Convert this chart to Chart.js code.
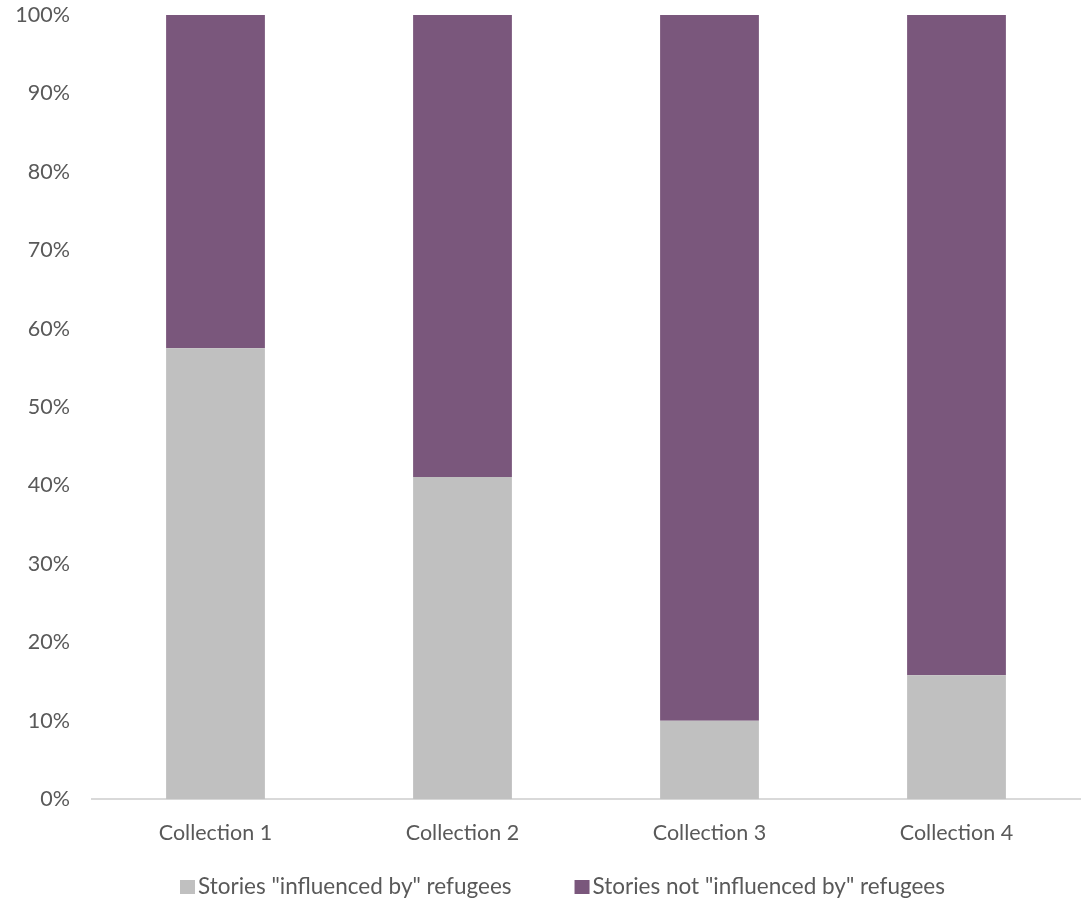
<!DOCTYPE html>
<html>
<head>
<meta charset="utf-8">
<script src="https://cdn.jsdelivr.net/npm/chart.js@4/dist/chart.umd.min.js"></script>
<style>
  html, body { margin: 0; padding: 0; background: #fff; }
  #wrap { width: 1082px; height: 900px; position: relative; }
</style>
</head>
<body>
<div id="wrap"><canvas id="chart" width="1082" height="900"></canvas></div>
<script>
// Categories and series (percent of stories per collection)
const categories = ['Collection 1', 'Collection 2', 'Collection 3', 'Collection 4'];
const influenced = [57.5, 41.1, 10.0, 15.8];
const notInfluenced = [42.5, 58.9, 90.0, 84.2];
const yTicks = [0, 10, 20, 30, 40, 50, 60, 70, 80, 90, 100];

const textColor = '#595959';
const fontFamily = 'Lato, "Open Sans", sans-serif';

// Legend drawn under the plot, Excel style (small square right next to text)
const bottomLegend = {
    id: 'bottomLegend',
    afterDraw(chart) {
        const c = chart.ctx;
        const y = 887;
        let x = 180;
        c.save();
        c.font = '22.5px ' + fontFamily;
        c.textBaseline = 'middle';
        chart.data.datasets.forEach(ds => {
            c.fillStyle = ds.backgroundColor;
            c.fillRect(x, y - 7, 15, 14);
            c.fillStyle = textColor;
            c.fillText(ds.label, x + 18, y);
            x += 18 + c.measureText(ds.label).width + 63;
        });
        c.restore();
    }
};

const ctx = document.getElementById('chart').getContext('2d');
new Chart(ctx, {
    type: 'bar',
    data: {
        labels: categories,
        datasets: [
            {
                label: 'Stories "influenced by" refugees',
                data: influenced,
                backgroundColor: '#C0C0C0',
                categoryPercentage: 1,
                barPercentage: 0.4
            },
            {
                label: 'Stories not "influenced by" refugees',
                data: notInfluenced,
                backgroundColor: '#7A577C',
                categoryPercentage: 1,
                barPercentage: 0.4
            }
        ]
    },
    options: {
        responsive: false,
        animation: false,
        layout: { padding: { top: 15, right: 2, left: 0, bottom: 33 } },
        plugins: {
            tooltip: { enabled: false },
            legend: { display: false }
        },
        scales: {
            x: {
                stacked: true,
                grid: { display: false, drawTicks: false },
                border: { color: '#D9D9D9', width: 2 },
                ticks: { color: textColor, font: { family: fontFamily, size: 21.5 }, padding: 21 }
            },
            y: {
                stacked: true,
                min: 0,
                max: 100,
                afterBuildTicks: axis => { axis.ticks = yTicks.map(v => ({ value: v })); },
                afterFit: axis => {
                    axis.width = 92;
                    axis.paddingTop = 0;
                    axis.paddingBottom = 0;
                },
                grid: { display: false, drawTicks: false },
                border: { display: false },
                ticks: {
                    color: textColor,
                    font: { family: fontFamily, size: 21.5 },
                    padding: 22,
                    callback: v => v + '%'
                }
            }
        }
    },
    plugins: [bottomLegend]
});
</script>
</body>
</html>
